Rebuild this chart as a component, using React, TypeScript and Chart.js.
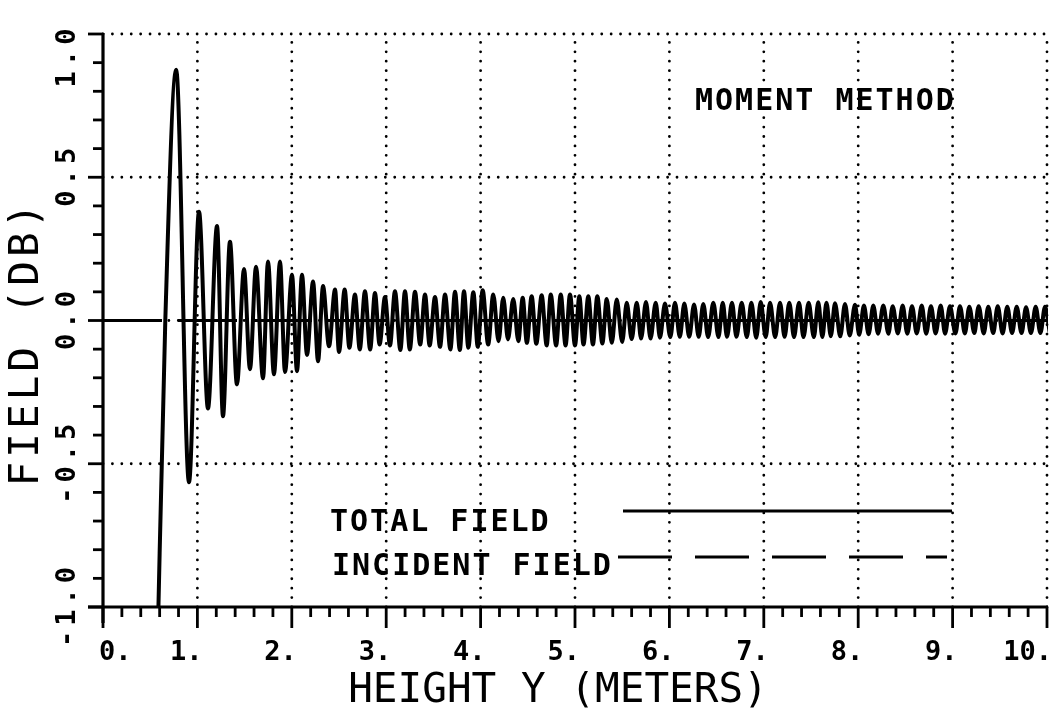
import React, { useEffect, useRef } from "react";
import { Chart, registerables } from "chart.js";

Chart.register(...registerables);

// ---- axis ranges & tick labels ----
const xMin = 0;
const xMax = 10;
const yMin = -1;
const yMax = 1;
const xTickValues = [0, 1, 2, 3, 4, 5, 6, 7, 8, 9, 10];
const xTickLabels = ["0.", "1.", "2.", "3.", "4.", "5.", "6.", "7.", "8.", "9.", "10."];
const yTickValues = [-1, -0.5, 0, 0.5, 1];
const yTickLabels = ["-1.0", "-0.5", "0.0", "0.5", "1.0"];
const xTitle = "HEIGHT Y (METERS)";
const yTitle = "FIELD (DB)";
const annotationText = "MOMENT METHOD";
const seriesNames = ["TOTAL FIELD", "INCIDENT FIELD"];

// ---- total field: successive extremes ----
const fieldX = [
  0.57, 0.66, 0.775, 0.911, 1.017, 1.112, 1.208, 1.271, 1.345, 1.419,
  1.494, 1.557, 1.621, 1.695, 1.748, 1.811, 1.875, 1.928, 2.002, 2.055,
  2.108, 2.161, 2.225, 2.278, 2.331, 2.394, 2.458, 2.5, 2.56, 2.61,
  2.669, 2.72, 2.775, 2.83, 2.881, 2.93, 2.987, 3.04, 3.093, 3.15,
  3.199, 3.25, 3.305, 3.36, 3.411, 3.46, 3.517, 3.57, 3.623, 3.68,
  3.729, 3.78, 3.824, 3.87, 3.923, 3.97, 4.022, 4.08, 4.134, 4.19,
  4.24, 4.29, 4.346, 4.4, 4.446, 4.49, 4.541, 4.59, 4.647, 4.7,
  4.743, 4.8, 4.849, 4.9, 4.947, 5.0, 5.046, 5.09, 5.141, 5.19,
  5.236, 5.29, 5.336, 5.39, 5.442, 5.5, 5.548, 5.6, 5.654, 5.7,
  5.752, 5.8, 5.855, 5.9, 5.953, 6.01, 6.059, 6.11, 6.158, 6.21,
  6.261, 6.31, 6.359, 6.41, 6.465, 6.52, 6.565, 6.61, 6.663, 6.71,
  6.766, 6.82, 6.868, 6.92, 6.967, 7.02, 7.066, 7.12, 7.172, 7.22,
  7.27, 7.32, 7.373, 7.42, 7.475, 7.53, 7.577, 7.62, 7.664, 7.71,
  7.754, 7.81, 7.86, 7.91, 7.966, 8.01, 8.061, 8.11, 8.16, 8.21,
  8.266, 8.32, 8.365, 8.42, 8.471, 8.52, 8.57, 8.62, 8.673, 8.72,
  8.771, 8.82, 8.874, 8.92, 8.972, 9.03, 9.078, 9.13, 9.177, 9.23,
  9.276, 9.33, 9.378, 9.43, 9.478, 9.53, 9.579, 9.63, 9.679, 9.73,
  9.778, 9.83, 9.88, 9.93, 9.979, 10.03,
];
const fieldY = [
  -1.25, 0.0, 0.875, -0.565, 0.38, -0.307, 0.33, -0.334, 0.275, -0.223,
  0.18, -0.17, 0.188, -0.202, 0.206, -0.188, 0.206, -0.18, 0.16, -0.177,
  0.16, -0.12, 0.136, -0.142, 0.12, -0.09, 0.108, -0.11, 0.108, -0.095,
  0.091, -0.101, 0.102, -0.101, 0.096, -0.084, 0.082, -0.087, 0.102, -0.103,
  0.102, -0.101, 0.1, -0.084, 0.091, -0.087, 0.082, -0.092, 0.091, -0.101,
  0.1, -0.103, 0.102, -0.095, 0.099, -0.092, 0.106, -0.084, 0.091, -0.072,
  0.079, -0.066, 0.075, -0.072, 0.079, -0.078, 0.085, -0.081, 0.088, -0.087,
  0.091, -0.087, 0.091, -0.087, 0.091, -0.087, 0.085, -0.084, 0.085, -0.084,
  0.085, -0.08, 0.075, -0.078, 0.073, -0.075, 0.062, -0.065, 0.062, -0.063,
  0.065, -0.063, 0.062, -0.06, 0.059, -0.058, 0.062, -0.057, 0.059, -0.057,
  0.056, -0.057, 0.058, -0.058, 0.062, -0.058, 0.062, -0.057, 0.062, -0.057,
  0.062, -0.058, 0.062, -0.06, 0.065, -0.058, 0.062, -0.058, 0.062, -0.057,
  0.062, -0.058, 0.062, -0.058, 0.062, -0.058, 0.064, -0.058, 0.062, -0.055,
  0.06, -0.055, 0.058, -0.052, 0.055, -0.05, 0.052, -0.048, 0.052, -0.046,
  0.052, -0.046, 0.05, -0.045, 0.052, -0.046, 0.05, -0.045, 0.052, -0.046,
  0.05, -0.045, 0.052, -0.046, 0.05, -0.045, 0.05, -0.045, 0.048, -0.044,
  0.05, -0.045, 0.048, -0.044, 0.05, -0.045, 0.048, -0.044, 0.048, -0.044,
  0.046, -0.044, 0.048, -0.044, 0.048, -0.044,
];

// ---- incident field ----
const incidentX = [0, 10];
const incidentY = [0, 0];

const MONO = '"DejaVu Sans Mono", "Liberation Mono", monospace';

function seg(ctx: CanvasRenderingContext2D, x1: number, y1: number, x2: number, y2: number) {
  ctx.beginPath();
  ctx.moveTo(x1, y1);
  ctx.lineTo(x2, y2);
  ctx.stroke();
}

const plotterPlugin = {
  id: "plotter",
  beforeDraw(chart: any) {
    const { ctx, width, height } = chart;
    ctx.save();
    ctx.fillStyle = "#fff";
    ctx.fillRect(0, 0, width, height);
    ctx.restore();
  },
  beforeDatasetsDraw(chart: any) {
    const { ctx, chartArea: a, scales } = chart;
    const x = scales.x;
    const y = scales.y;
    ctx.save();
    ctx.strokeStyle = "#000";
    ctx.lineWidth = 2.8;
    ctx.lineCap = "round";
    ctx.setLineDash([0.01, 9.4]);
    for (const v of xTickValues) {
      if (v === xMin) continue;
      const px = x.getPixelForValue(v);
      seg(ctx, px, a.bottom, px, a.top);
    }
    for (const v of yTickValues) {
      if (v === yMin) continue;
      const py = y.getPixelForValue(v);
      seg(ctx, a.left, py, a.right, py);
    }
    ctx.restore();
  },
  afterDatasetsDraw(chart: any) {
    const { ctx, chartArea: a, scales } = chart;
    const x = scales.x;
    const y = scales.y;
    ctx.save();
    ctx.strokeStyle = "#000";
    ctx.fillStyle = "#000";
    ctx.lineCap = "butt";
    ctx.setLineDash([]);
    // axes
    ctx.lineWidth = 3.2;
    seg(ctx, a.left, a.top - 1, a.left, a.bottom + 16);
    seg(ctx, a.left - 15, a.bottom, a.right + 1, a.bottom);
    // y ticks (every 0.1)
    ctx.lineWidth = 2.8;
    for (let k = -10; k <= 10; k++) {
      const py = y.getPixelForValue(k / 10);
      const len = k % 5 === 0 ? 15 : 10;
      seg(ctx, a.left, py, a.left - len, py);
    }
    // x ticks (every 0.2)
    for (let k = 0; k <= 50; k++) {
      const px = x.getPixelForValue(k / 5);
      const len = k % 5 === 0 ? 21 : 10;
      seg(ctx, px, a.bottom, px, a.bottom + len);
    }
    // x tick labels
    ctx.font = `bold 27px ${MONO}`;
    ctx.textBaseline = "alphabetic";
    xTickValues.forEach((v, i) => {
      const px = x.getPixelForValue(v);
      if (i === 0) {
        ctx.textAlign = "left";
        ctx.fillText(xTickLabels[i], px - 4, 660);
      } else {
        ctx.textAlign = "right";
        ctx.fillText(xTickLabels[i], px + 5, 660);
      }
    });
    // y tick labels (rotated)
    ctx.font = `bold 27px ${MONO}`;
    (ctx as any).letterSpacing = "5px";
    yTickValues.forEach((v, i) => {
      let py = y.getPixelForValue(v);
      if (v === yMax) py += 24;
      ctx.save();
      ctx.translate(68, py);
      ctx.rotate(-Math.PI / 2);
      ctx.textAlign = "center";
      ctx.textBaseline = "middle";
      ctx.fillText(yTickLabels[i], 2.5, 0);
      ctx.restore();
    });
    // y title
    ctx.font = `41px ${MONO}`;
    (ctx as any).letterSpacing = "4px";
    ctx.save();
    ctx.translate(27, 345);
    ctx.rotate(-Math.PI / 2);
    ctx.textAlign = "center";
    ctx.textBaseline = "middle";
    ctx.fillText(yTitle, 2, 0);
    ctx.restore();
    // x title
    (ctx as any).letterSpacing = "0px";
    ctx.font = `41px ${MONO}`;
    ctx.textAlign = "center";
    ctx.textBaseline = "alphabetic";
    ctx.fillText(xTitle, 558, 702);
    // annotation
    ctx.font = `bold 30px ${MONO}`;
    (ctx as any).letterSpacing = "2px";
    ctx.textAlign = "left";
    ctx.fillText(annotationText, 695, 110);
    // legend
    ctx.fillText(seriesNames[0], 330, 531);
    ctx.fillText(seriesNames[1], 332, 575);
    ctx.lineWidth = 3.2;
    seg(ctx, 623, 511, 952, 511);
    ctx.setLineDash([54, 23]);
    seg(ctx, 618, 557, 947, 557);
    ctx.restore();
  },
};

export default function App() {
  const canvasRef = useRef<HTMLCanvasElement | null>(null);

  useEffect(() => {
    document.body.style.margin = "0";
    const canvas = canvasRef.current;
    if (!canvas) return;
    const total = fieldX.map((v, i) => ({ x: v, y: fieldY[i] }));
    const incident = incidentX.map((v, i) => ({ x: v, y: incidentY[i] }));
    const chart = new Chart(canvas, {
      type: "line",
      data: {
        datasets: [
          {
            label: seriesNames[0],
            data: total,
            borderColor: "#000",
            borderWidth: 4,
            pointRadius: 0,
            cubicInterpolationMode: "monotone",
            tension: 0.4,
            fill: false,
            clip: 1,
          } as any,
          {
            label: seriesNames[1],
            data: incident,
            borderColor: "#000",
            borderWidth: 3,
            borderDash: [59, 16],
            pointRadius: 0,
            fill: false,
            clip: 1,
          } as any,
        ],
      },
      options: {
        animation: false,
        responsive: false,
        devicePixelRatio: 1,
        layout: { padding: { left: 103, right: 5, top: 34, bottom: 104 } },
        plugins: { legend: { display: false }, tooltip: { enabled: false } },
        scales: {
          x: { type: "linear", min: xMin, max: xMax, display: false },
          y: { type: "linear", min: yMin, max: yMax, display: false },
        },
      },
      plugins: [plotterPlugin],
    });
    return () => chart.destroy();
  }, []);

  return (
    <div style={{ position: "absolute", left: 0, top: 0, width: 1052, height: 711, background: "#fff" }}>
      <canvas ref={canvasRef} width={1052} height={711} style={{ display: "block", width: 1052, height: 711 }} />
    </div>
  );
}
